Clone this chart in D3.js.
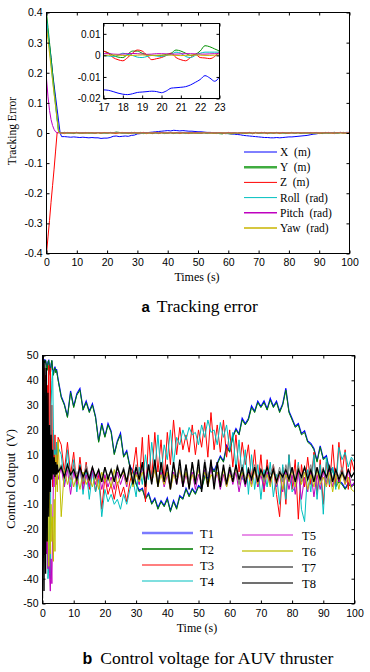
<!DOCTYPE html>
<html><head><meta charset="utf-8">
<script src="https://cdn.jsdelivr.net/npm/d3@7"></script>
<style>body{margin:0;background:#fff}svg{display:block}</style>
</head><body><svg id="c" width="370" height="672"></svg>
<script>
// ---------- Chart a data ----------
const aTime = [0,0.5,1,1.5,2,2.5,3,3.5,4,4.5,5,
 6,7,8,9,10,11,12,13,14,15,16,17,18,19,20,21,22,23,24,25,26,27,28,29,30,31,32,33,34,35,
 36,37,38,39,40,41,42,43,44,45,46,47,48,49,50,51,52,53,54,55,56,57,58,59,60,61,62,63,64,65,
 66,67,68,69,70,71,72,73,74,75,76,77,78,79,80,81,82,83,84,85,86,87,88,89,90,91,92,93,94,95,
 96,97,98,99,100];
const aX = [0.37,0.33,0.29,0.25,0.2,0.16,0.12,0.08,0.04,0.0,-0.012,
 -0.012,-0.013,-0.014,-0.013,-0.014,-0.015,-0.014,-0.015,-0.016,-0.015,
 -0.016,-0.016,-0.018,-0.017,-0.017,-0.015,-0.011,-0.010,-0.012,-0.011,
 -0.010,-0.011,-0.008,-0.007,-0.003,-0.002,0.000,0.001,0.002,0.003,
 0.004,0.005,0.006,0.007,0.008,0.007,0.009,0.008,0.007,0.008,
 0.007,0.006,0.006,0.005,0.004,0.004,0.003,0.002,0.002,0.001,
 0.000,-0.001,-0.001,-0.002,-0.002,-0.003,-0.004,-0.005,-0.006,-0.008,
 -0.009,-0.010,-0.011,-0.012,-0.013,-0.014,-0.015,-0.015,-0.016,-0.016,
 -0.015,-0.016,-0.015,-0.014,-0.013,-0.013,-0.012,-0.011,-0.010,-0.009,
 -0.008,-0.006,-0.004,-0.003,-0.001,0.000,0.001,0.000,0.001,0.002,
 0.001,0.002,0.001,0.002,0.002];
const aY = [0.4,0.35,0.3,0.25,0.2,0.15,0.1,0.05,0.005,0.002,0.001,
 0.002,-0.001,0.001,-0.002,0.002,0.000,-0.001,0.002,-0.001,0.001,
 -0.001,0.002,-0.001,0.001,0.000,0.002,0.001,0.003,0.002,-0.001,
 0.001,-0.002,0.002,0.000,-0.001,0.002,-0.002,0.001,0.000,-0.002,
 0.001,-0.001,0.002,-0.002,0.000,0.001,-0.002,0.001,-0.001,0.002,
 -0.002,0.001,-0.001,0.002,-0.002,0.000,0.001,-0.002,0.002,-0.001,
 0.001,-0.002,-0.003,0.000,-0.002,-0.003,-0.001,-0.002,0.001,-0.002,
 -0.001,0.001,-0.002,0.002,-0.001,0.000,0.002,-0.002,0.001,-0.001,
 0.002,-0.001,0.000,-0.002,0.001,0.002,-0.001,0.001,-0.002,0.001,
 -0.001,0.002,-0.002,0.001,0.000,-0.002,0.002,-0.001,0.001,0.002,
 -0.001,0.001,0.002,0.000,0.001];
const aZ = [-0.4,-0.345,-0.29,-0.23,-0.175,-0.12,-0.06,0.0,0.003,0.001,-0.001,
 -0.002,0.002,-0.001,0.001,0.002,-0.002,0.001,-0.001,0.002,0.000,
 -0.002,0.002,-0.002,0.002,-0.001,0.001,-0.001,-0.002,0.001,0.002,
 -0.001,0.001,-0.002,0.002,0.000,-0.001,0.002,-0.002,0.001,-0.001,
 0.002,-0.002,0.001,0.000,-0.001,0.002,-0.001,0.001,-0.002,0.001,
 0.000,-0.002,0.002,-0.001,0.001,-0.002,0.002,0.000,-0.001,0.001,
 -0.002,0.001,0.000,-0.002,0.002,-0.001,0.001,-0.002,0.000,0.001,
 -0.001,0.002,-0.002,0.001,-0.001,0.002,0.000,-0.002,0.001,0.000,
 0.001,-0.002,0.002,0.000,-0.001,0.001,-0.002,0.002,0.000,-0.001,
 0.002,-0.001,0.000,0.002,-0.002,0.001,-0.001,0.002,0.000,-0.002,
 0.001,0.002,-0.001,0.001,0.000];
const aRoll = [0.38,0.33,0.28,0.23,0.18,0.135,0.09,0.045,0.002,0.001,0.0,
 0.001,0.000,-0.001,0.001,0.000,-0.001,0.001,0.000,0.001,-0.001,
 0.000,0.001,0.000,-0.001,-0.001,0.001,0.000,0.002,0.001,0.000,
 -0.001,0.001,0.000,-0.001,0.001,0.000,-0.001,0.001,0.000,0.001,
 -0.001,0.000,0.001,-0.001,0.000,0.001,0.000,-0.001,0.001,0.000,
 -0.001,0.001,0.000,0.001,-0.001,0.000,0.001,-0.001,0.000,0.001,
 0.000,-0.001,0.001,0.000,-0.001,0.001,0.000,-0.001,0.001,0.000,
 0.001,-0.001,0.000,0.001,0.000,-0.001,0.001,0.000,-0.001,0.001,
 0.000,0.001,-0.001,0.000,0.001,0.000,-0.001,0.001,0.000,-0.001,
 0.001,0.000,-0.001,0.001,0.000,0.001,-0.001,0.000,0.001,0.000,
 -0.001,0.001,0.000,0.001,0.000];
const aPitch = [0.18,0.12,0.075,0.045,0.025,0.012,0.004,0.001,0.0005,0.0005,0.0005,
 0.0006,0.0007,0.0008,0.0007,0.0006,0.0006,0.0007,0.0008,0.0007,0.0006,
 0.0005,0.0007,0.0008,0.0008,0.0006,0.0007,0.0008,0.0007,0.0006,0.0005,
 0.0006,0.0008,0.0007,0.0006,0.0007,0.0008,0.0006,0.0007,0.0008,0.0007,
 0.0006,0.0007,0.0009,0.0008,0.0006,0.0005,0.0007,0.0008,0.0007,0.0006,
 0.0008,0.0007,0.0006,0.0007,0.0008,0.0006,0.0005,0.0007,0.0008,0.0007,
 0.0006,0.0008,0.0007,0.0006,0.0007,0.0008,0.0007,0.0006,0.0005,0.0007,
 0.0008,0.0007,0.0006,0.0008,0.0007,0.0006,0.0007,0.0008,0.0006,0.0007,
 0.0007,0.0006,0.0008,0.0007,0.0006,0.0005,0.0007,0.0008,0.0007,0.0006,
 0.0008,0.0007,0.0006,0.0007,0.0008,0.0007,0.0006,0.0008,0.0007,0.0006,
 0.0007,0.0008,0.0006,0.0007,0.0008];
const aYaw = [0.35,0.31,0.265,0.22,0.175,0.13,0.09,0.045,0.002,0.0,0.0,
 0.0000,0.0001,0.0002,0.0001,0.0000,-0.0001,0.0000,0.0001,0.0002,0.0001,
 0.0000,0.0000,0.0001,0.0002,0.0001,0.0000,-0.0001,0.0000,0.0001,0.0002,
 0.0001,0.0000,0.0000,0.0001,0.0002,0.0001,0.0000,-0.0001,0.0000,0.0001,
 0.0002,0.0001,0.0000,0.0000,0.0001,0.0002,0.0001,0.0000,-0.0001,0.0000,
 0.0001,0.0002,0.0001,0.0000,0.0000,0.0001,0.0002,0.0001,0.0000,-0.0001,
 0.0000,0.0001,0.0002,0.0001,0.0000,0.0000,0.0001,0.0002,0.0001,0.0000,
 -0.0001,0.0000,0.0001,0.0002,0.0001,0.0000,0.0000,0.0001,0.0002,0.0001,
 0.0000,-0.0001,0.0000,0.0001,0.0002,0.0001,0.0000,0.0000,0.0001,0.0002,
 0.0001,0.0000,-0.0001,0.0000,0.0001,0.0002,0.0001,0.0000,0.0000,0.0001,
 0.0002,0.0001,0.0000,-0.0001,0.0000];
// inset (zoom 17-23 s)
const iTime = [17,17.25,17.5,17.75,18,18.25,18.5,18.75,19,19.25,19.5,19.75,20,20.25,20.5,20.75,21,21.25,21.5,21.75,22,22.25,22.5,22.75,23];
const iX = [-0.016,-0.0162,-0.0168,-0.0175,-0.018,-0.0182,-0.0178,-0.0172,-0.017,-0.0168,-0.0166,-0.0168,-0.0173,-0.0165,-0.0152,-0.015,-0.0148,-0.0145,-0.0137,-0.0125,-0.0112,-0.0094,-0.0105,-0.012,-0.0100];
const iY = [0.002,0.0012,0.0,-0.0008,-0.001,0.0005,0.002,0.002,0.001,0.0003,0.0,0.0,0.0,0.0005,0.001,0.0025,0.002,0.001,0.0,0.0005,0.002,0.0045,0.004,0.003,0.002];
const iZ = [0.002,0.001,-0.001,-0.002,-0.0025,-0.001,0.001,0.0025,0.002,0.0,-0.002,-0.0015,-0.001,0.0,0.001,-0.001,-0.002,-0.0025,-0.001,0.0005,-0.001,-0.0012,-0.0015,-0.0005,0.002];
const iRoll = [0.0,-0.0003,-0.0005,0.0,0.001,0.0005,0.0,-0.0008,-0.001,-0.0005,0.0,-0.0003,-0.0005,0.0,0.0005,0.0015,0.001,-0.0005,-0.001,0.0,0.001,0.0015,0.0015,0.0015,0.0015];
const iPitch = [0.0008,0.0008,0.0006,0.0005,0.0006,0.0008,0.0009,0.0008,0.0006,0.0005,0.0006,0.0008,0.0008,0.0007,0.0006,0.0006,0.0007,0.0008,0.0008,0.0007,0.0006,0.0006,0.0007,0.0008,0.0008];
const iYaw = [0.0,0.0001,0.0002,0.0001,0.0,-0.0001,0.0,0.0001,0.0002,0.0001,0.0,0.0,0.0001,0.0002,0.0001,0.0,-0.0001,0.0,0.0001,0.0002,0.0001,0.0,0.0,0.0001,0.0002];
const aNames = ["X  (m)","Y  (m)","Z  (m)","Roll  (rad)","Pitch  (rad)","Yaw  (rad)"];
const aXTicks = [0,10,20,30,40,50,60,70,80,90,100];
const aYTicks = [-0.4,-0.3,-0.2,-0.1,0,0.1,0.2,0.3,0.4];
const iXTicks = [17,18,19,20,21,22,23];
const iYTicks = [-0.02,-0.01,0,0.01];

// ---------- Chart b data ----------
const bTime = [0,0.25,0.5,0.75,1,1.25,1.5,1.75,2,2.25,2.5,2.75,3,3.25,3.5,3.75,4,4.25,4.5,4.75,5,
 6,7,8,9,10,11,12,13,14,15,16,17,18,19,20,21,22,23,24,25,26,27,28,29,30,31,32,33,34,35,
 36,37,38,39,40,41,42,43,44,45,46,47,48,49,50,51,52,53,54,55,56,57,58,59,60,61,62,63,64,65,
 66,67,68,69,70,71,72,73,74,75,76,77,78,79,80,81,82,83,84,85,86,87,88,89,90,91,92,93,94,95,
 96,97,98,99,100];
const bT1 = [0,46.5,48.5,47.5,48,46.5,44.5,47.5,48,45.5,42.5,46.5,48,44.5,42.5,44.5,45.5,43.5,44.5,42.5,40.5,
 33.6,30.5,25.4,35.7,29.5,34.6,36.7,28.4,31.6,27.5,
 30.6,25.4,15.5,22.7,17.4,22.6,19.5,10.4,15.6,18.7,
 9.5,11.6,5.4,3.5,-1.5,-4.4,-3.5,-7.6,-5.4,-9.5,
 -7.5,-11.4,-8.6,-10.5,-7.4,-12.6,-8.5,-11.4,-6.5,-7.6,
 -3.5,-6.4,-3.6,-5.5,-2.4,-3.5,1.6,0.5,5.6,3.5,
 6.6,9.5,7.4,13.7,11.5,17.6,20.5,18.4,24.7,22.5,
 24.6,29.7,27.5,31.6,29.4,31.7,28.5,32.7,29.5,31.6,
 27.5,30.6,36.8,27.5,24.6,21.5,22.6,18.5,19.6,15.5,
 14.6,12.5,7.5,13.6,8.5,9.6,3.5,4.6,-2.5,-0.5,
 -1.5,-3.6,-1.4,-2.5,-1.5];
const bT2 = [0,46,48,47,48,46,44,47,48,45,42,46,48,44,42,44,45,43,44,42,40,
 33,30,25,35,29,34,36,28,31,27,
 30,25,15,22,17,22,19,10,15,18,
 9,11,5,3,-2,-5,-4,-8,-6,-10,
 -8,-12,-9,-11,-8,-13,-9,-12,-7,-8,
 -4,-7,-4,-6,-3,-4,1,0,5,3,
 6,9,7,13,11,17,20,18,24,22,
 24,29,27,31,29,31,28,32,29,31,
 27,30,36,27,24,21,22,18,19,15,
 14,12,7,13,8,9,3,4,-3,-1,
 -2,-4,-2,-3,-2];
const bT3 = [0,30,45,10,42,-5,38,20,46,-10,45,5,30,-3,20,8,18,2,15,5,17,
 14,3,15,2,11,-3,9,-2,7,-4,
 5,-5,2,-12,1,-6,-2,-8,-1,-7,
 -3,-9,-1,4,13,-2,17,-9,18,0,
 19,3,16,-1,19,6,24,10,21,12,
 18,11,22,10,20,13,23,9,27,12,
 22,11,24,9,20,5,18,3,15,6,
 14,0,12,-3,10,-5,8,-2,6,-6,
 -15,5,-10,10,-4,8,-16,6,-3,9,
 -2,11,-6,8,-10,7,-3,14,-2,15,
 2,12,-4,8,3];
const bT4 = [0,-10,20,-25,35,-30,10,-40,-35,-15,-40,30,40,44,20,10,12,8,15,10,13,
 10,-2,12,-3,8,-5,6,-6,4,-8,
 3,-5,0,-15,-4,-9,-6,-10,-8,-12,
 -6,-10,-4,0,-7,5,-2,10,0,15,
 4,18,2,14,8,20,6,17,14,20,
 16,21,18,19,14,22,17,24,19,20,
 14,23,17,22,12,19,4,16,0,12,
 -6,10,-4,6,-8,4,-3,7,-7,2,
 -10,6,-8,10,-5,-3,7,-12,-17,4,
 -5,10,-8,6,-14,9,-2,5,-4,13,
 8,11,5,9,7];
const bT5 = [0,-15,8,-25,-5,-30,-18,-36,-28,-38,-45,-32,-42,-20,0,5,-3,4,-2,3,0,
 5,-3,4,-6,3,-2,5,-4,2,-3,
 4,-2,3,-4,2,-3,1,-4,3,-2,
 2,-3,4,-1,3,-2,5,0,6,-1,
 4,-2,3,-3,2,-4,3,-2,4,-3,
 2,-3,3,-4,2,-2,4,-3,5,-2,
 3,-4,2,-3,4,-2,3,-5,2,-3,
 3,-2,4,-3,2,-4,3,-2,4,-3,
 2,-5,3,-4,2,-6,3,-8,1,-5,
 3,-7,2,-4,3,-2,4,-3,2,-1,
 3,-2,4,-3,-1];
const bT6 = [0,-20,15,-30,-10,5,-25,-15,-35,-5,-30,-10,-25,-15,-33,-8,-29,10,5,-5,16,
 -15,4,-2,3,-3,2,-4,3,-2,1,
 -3,2,-4,3,-1,2,-3,4,-2,1,
 3,-2,4,-3,2,-1,3,-2,5,-1,
 4,-3,2,-2,3,-4,2,-1,4,-2,
 3,-3,2,-1,4,-2,3,-3,2,0,
 3,-2,4,-3,2,-1,5,-2,3,-1,
 2,-3,4,-2,3,-1,2,-3,4,-2,
 3,-4,2,-1,4,-3,5,-2,3,-4,
 2,-3,4,-2,1,-3,3,-5,2,-4,
 3,-2,1,-4,-5];
const bT7 = [0,40,-30,35,-20,30,-15,25,-8,18,-5,14,0,10,2,8,3,6,2,5,3,
 6,1,5,0,6,2,5,-1,6,1,
 5,0,4,-1,5,1,4,0,6,1,
 5,-1,4,0,6,2,5,-2,6,1,
 7,-1,5,0,6,-2,7,1,5,0,
 6,-1,7,0,5,-2,8,1,6,-1,
 7,0,5,-1,6,1,5,-2,6,0,
 5,1,6,0,4,-1,5,2,6,0,
 5,-1,6,1,4,0,6,-1,5,2,
 6,0,4,1,5,-1,6,0,4,1,
 5,0,4,1,3];
const bT8 = [-48,50,-45,48,-38,45,-25,35,-15,22,-5,18,0,12,2,9,1,7,2,6,3,
 5,1,6,2,4,0,5,1,4,0,
 5,1,4,-1,5,0,4,-1,5,1,
 4,-1,6,-2,5,0,7,-3,6,-2,
 8,-3,7,-1,6,-4,7,-2,8,-3,
 6,-4,7,-2,8,-5,7,-3,8,-4,
 7,-3,6,-2,5,-1,6,0,5,-2,
 4,0,5,-1,4,1,5,0,4,-1,
 3,1,4,0,5,-1,4,1,5,0,
 4,-1,5,0,4,1,5,-1,4,0,
 3,0,4,1,3];
const bNames = ["T1","T2","T3","T4","T5","T6","T7","T8"];
const bXTicks = [0,10,20,30,40,50,60,70,80,90,100];
const bYTicks = [-50,-40,-30,-20,-10,0,10,20,30,40,50];

// ---------- drawing ----------
const svg = d3.select('#c');
const SANS = 'Liberation Sans, Arial, sans-serif';
const SERIF = 'Liberation Serif, Times New Roman, serif';
const fmt = d => String(+(+d).toFixed(3));

function drawAxes(g, x, y, xTicks, yTicks, fs, xPad, yPad) {
  const [x0, x1] = x.range(), [y0, y1] = y.range();
  const axes = [
    g.append('g').attr('transform', `translate(0,${y0})`).call(d3.axisBottom(x).tickValues(xTicks).tickSize(-3).tickSizeOuter(0).tickPadding(xPad).tickFormat(fmt)),
    g.append('g').attr('transform', `translate(0,${y1})`).call(d3.axisTop(x).tickValues(xTicks).tickSize(-3).tickSizeOuter(0).tickFormat('')),
    g.append('g').attr('transform', `translate(${x0},0)`).call(d3.axisLeft(y).tickValues(yTicks).tickSize(-3).tickSizeOuter(0).tickPadding(yPad).tickFormat(fmt)),
    g.append('g').attr('transform', `translate(${x1},0)`).call(d3.axisRight(y).tickValues(yTicks).tickSize(-3).tickSizeOuter(0).tickFormat(''))
  ];
  axes.forEach(a => {
    a.select('.domain').remove();
    a.selectAll('text').attr('font-family', SANS).attr('font-size', fs).attr('fill', '#000');
    a.selectAll('line').attr('stroke', '#000');
  });
  g.append('rect').attr('x', x0).attr('y', y1).attr('width', x1 - x0).attr('height', y0 - y1)
    .attr('fill', 'none').attr('stroke', '#000').attr('stroke-width', 1);
}
function clip(id, x, y) {
  const [x0, x1] = x.range(), [y0, y1] = y.range();
  svg.append('clipPath').attr('id', id).append('rect').attr('x', x0).attr('y', y1).attr('width', x1 - x0).attr('height', y0 - y1);
}

// ===== Chart a =====
const xA = d3.scaleLinear([0, 100], [46.5, 349.5]);
const yA = d3.scaleLinear([-0.4, 0.4], [253.5, 12.5]);
clip('clipA', xA, yA);
const aColors = ['#0000ff', '#009000', '#ff0000', '#00bfbf', '#bf00bf', '#c8b400'];
const aSeries = [aX, aY, aZ, aRoll, aPitch, aYaw];
const gA = svg.append('g');
const lineA = d3.line().x(d => xA(d[0])).y(d => yA(d[1]));
const gAL = gA.append('g').attr('clip-path', 'url(#clipA)');
aSeries.forEach((s, i) => {
  gAL.append('path').datum(d3.zip(aTime, s)).attr('d', lineA)
    .attr('fill', 'none').attr('stroke', aColors[i]).attr('stroke-width', 1);
});
drawAxes(gA, xA, yA, aXTicks, aYTicks, 10.5, 5, 4);

// inset
const xI = d3.scaleLinear([17, 23], [103.5, 219.5]);
const yI = d3.scaleLinear([-0.02, 0.0148], [98.5, 23.5]);
clip('clipI', xI, yI);
gA.append('rect').attr('x', 103.5).attr('y', 23.5).attr('width', 116).attr('height', 75).attr('fill', '#fff');
const lineI = d3.line().x(d => xI(d[0])).y(d => yI(d[1])).curve(d3.curveMonotoneX);
const gIL = gA.append('g').attr('clip-path', 'url(#clipI)');
[iX, iY, iZ, iRoll, iPitch, iYaw].forEach((s, i) => {
  gIL.append('path').datum(d3.zip(iTime, s)).attr('d', lineI)
    .attr('fill', 'none').attr('stroke', aColors[i]).attr('stroke-width', 1);
});
drawAxes(gA.append('g'), xI, yI, iXTicks, iYTicks, 10, 5, 3);

// legend a
const aLW = [1, 2.5, 1, 1, 1.5, 1.5];
aNames.forEach((n, i) => {
  const yy = 152 + i * 15.2;
  gA.append('line').attr('x1', 244).attr('x2', 277).attr('y1', yy).attr('y2', yy)
    .attr('stroke', aColors[i]).attr('stroke-width', aLW[i]).attr('stroke-opacity', i === 1 ? 0.75 : 1);
  gA.append('text').attr('x', 280).attr('y', yy + 4).text(n)
    .attr('font-family', SERIF).attr('font-size', 11.5).style('white-space', 'pre');
});
gA.append('text').attr('x', 197).attr('y', 281).attr('text-anchor', 'middle')
  .attr('font-family', SERIF).attr('font-size', 12).text('Times (s)');
gA.append('text').attr('transform', 'translate(16,131) rotate(-90)').attr('text-anchor', 'middle')
  .attr('font-family', SERIF).attr('font-size', 11.5).text('Tracking Error');
const capA = gA.append('text').attr('x', 141.5).attr('y', 312);
capA.append('tspan').attr('font-family', SANS).attr('font-weight', 'bold').attr('font-size', 15).text('a');
capA.append('tspan').attr('dx', 7).attr('font-family', SERIF).attr('font-size', 17.5).text('Tracking error');

// ===== Chart b =====
const xB = d3.scaleLinear([0, 100], [42.5, 354.5]);
const yB = d3.scaleLinear([-50, 50], [603.5, 355.5]);
clip('clipB', xB, yB);
const bColors = ['#0000ff', '#008000', '#ff0000', '#00bfbf', '#bf00bf', '#bfbf00', '#808080', '#000000'];
const bSeries = [bT1, bT2, bT3, bT4, bT5, bT6, bT7, bT8];
const gB = svg.append('g');
const lineB = d3.line().x(d => xB(d[0])).y(d => yB(d[1]));
const gBL = gB.append('g').attr('clip-path', 'url(#clipB)');
bSeries.forEach((s, i) => {
  gBL.append('path').datum(d3.zip(bTime, s)).attr('d', lineB)
    .attr('fill', 'none').attr('stroke', bColors[i]).attr('stroke-width', i === 7 ? 1.3 : (i === 0 ? 1.2 : 1));
});
drawAxes(gB, xB, yB, bXTicks, bYTicks, 10.5, 6, 4);

// legend b
const bLW = [2.5, 2, 1.2, 1.2, 1.2, 1.5, 2, 1.5];
const bLC = ['#7b7bff', '#3a9a3a', '#ff0000', '#00bfbf', '#d020d0', '#c8c828', '#808080', '#404040'];
bNames.forEach((n, i) => {
  const col = Math.floor(i / 4), r = i % 4;
  const yy = (col === 0 ? 533 : 535) + r * 16;
  const lx = col === 0 ? 142 : 242, tx = col === 0 ? 200 : 302;
  gB.append('line').attr('x1', lx).attr('x2', lx + 51).attr('y1', yy).attr('y2', yy)
    .attr('stroke', bLC[i]).attr('stroke-width', bLW[i]);
  gB.append('text').attr('x', tx).attr('y', yy + 4.5).text(n)
    .attr('font-family', SERIF).attr('font-size', 12.5);
});
gB.append('text').attr('x', 197).attr('y', 632).attr('text-anchor', 'middle')
  .attr('font-family', SERIF).attr('font-size', 12).text('Time (s)');
gB.append('text').attr('transform', 'translate(15,479) rotate(-90)').attr('text-anchor', 'middle')
  .attr('font-family', SERIF).attr('font-size', 12.5).style('white-space', 'pre').text('Control Output  (V)');
const capB = gB.append('text').attr('x', 82.5).attr('y', 664);
capB.append('tspan').attr('font-family', SANS).attr('font-weight', 'bold').attr('font-size', 16).text('b');
capB.append('tspan').attr('dx', 8).attr('font-family', SERIF).attr('font-size', 17.5).text('Control voltage for AUV thruster');
</script>
</body></html>
